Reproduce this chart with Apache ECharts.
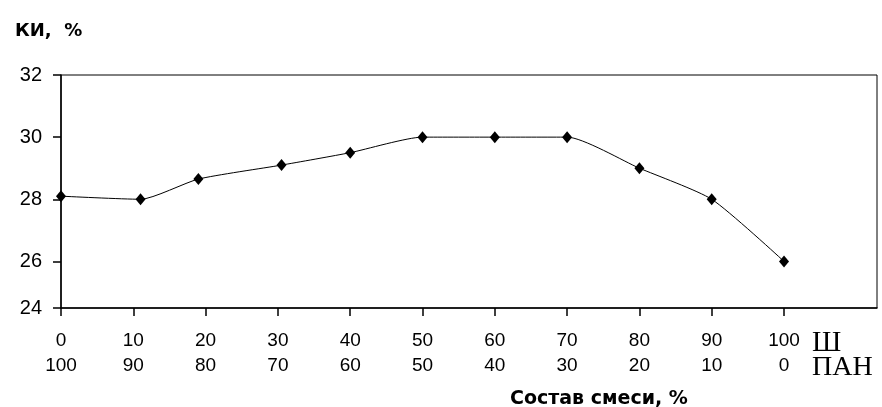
<!DOCTYPE html>
<html>
<head>
<meta charset="utf-8">
<script src="https://cdn.jsdelivr.net/npm/echarts@6/dist/echarts.min.js"></script>
<style>
html,body{margin:0;padding:0;background:#fff;}
#chart{width:882px;height:407px;}
</style>
</head>
<body>
<div id="chart"></div>
<script>
// Composition: share of Ш (%) for each measured point
const compositionSh = [0, 11, 19, 30.5, 40, 50, 60, 70, 80, 90, 100];
// КИ, % values
const kiValues = [28.1, 28.0, 28.65, 29.1, 29.5, 30.0, 30.0, 30.0, 29.0, 28.0, 26.0];
// X tick labels (two rows)
const xTickValues = [0, 10, 20, 30, 40, 50, 60, 70, 80, 90, 100];
const xTickLabelsSh = ['0', '10', '20', '30', '40', '50', '60', '70', '80', '90', '100'];
const xTickLabelsPan = ['100', '90', '80', '70', '60', '50', '40', '30', '20', '10', '0'];
// Y tick labels
const yTickValues = [24.5, 26, 28, 30, 32];
const yTickLabels = ['24', '26', '28', '30', '32'];

const chart = echarts.init(document.getElementById('chart'), null, {renderer: 'canvas'});
const seriesData = compositionSh.map((x, i) => [x, kiValues[i]]);

chart.setOption({
  animation: false,
  backgroundColor: '#fff',
  title: [
    {
      text: 'КИ,  %', left: 10, top: 17,
      textStyle: {fontFamily: 'DejaVu Sans', fontWeight: 'bold', fontSize: 18, color: '#000'}
    },
    {
      text: 'Состав смеси, %', left: 505, top: 385,
      textStyle: {fontFamily: 'DejaVu Sans', fontWeight: 'bold', fontSize: 19, color: '#000'}
    }
  ],
  grid: {
    left: 61, right: 5, top: 75, bottom: 99,
    show: true, borderColor: '#000', borderWidth: 1, backgroundColor: '#fff'
  },
  xAxis: {
    type: 'value', min: 0, max: 112.86, interval: 10,
    axisLine: {show: true, onZero: false, lineStyle: {color: '#000', width: 1.5}},
    axisTick: {show: true, length: 8, customValues: xTickValues, lineStyle: {color: '#000', width: 1.5}},
    axisLabel: {
      customValues: xTickValues, margin: 20,
      fontFamily: 'Liberation Sans', fontSize: 19, color: '#000', lineHeight: 25,
      formatter: function (v) {
        const i = xTickValues.indexOf(Math.round(v));
        return xTickLabelsSh[i] + '\n' + xTickLabelsPan[i];
      }
    },
    splitLine: {show: false}
  },
  yAxis: {
    type: 'value', min: 24.5, max: 32,
    axisLine: {show: true, lineStyle: {color: '#000', width: 1.5}},
    axisTick: {show: true, length: 8, customValues: yTickValues, lineStyle: {color: '#000', width: 1.5}},
    axisLabel: {
      customValues: yTickValues, margin: 19,
      fontFamily: 'Liberation Sans', fontSize: 20, color: '#000',
      formatter: function (v) {
        const i = yTickValues.indexOf(v);
        return yTickLabels[i];
      }
    },
    splitLine: {show: false}
  },
  graphic: [
    {type: 'text', left: 812, top: 329, style: {text: 'Ш', font: '29px "Liberation Serif"', fill: '#000'}},
    {type: 'text', left: 812, top: 354, style: {text: 'ПАН', font: '28px "Liberation Serif"', fill: '#000'}}
  ],
  series: [{
    type: 'line',
    data: seriesData,
    smooth: 0.2,
    symbol: 'diamond',
    symbolSize: [10, 12],
    lineStyle: {color: '#000', width: 1},
    itemStyle: {color: '#000'}
  }]
});
</script>
</body>
</html>
